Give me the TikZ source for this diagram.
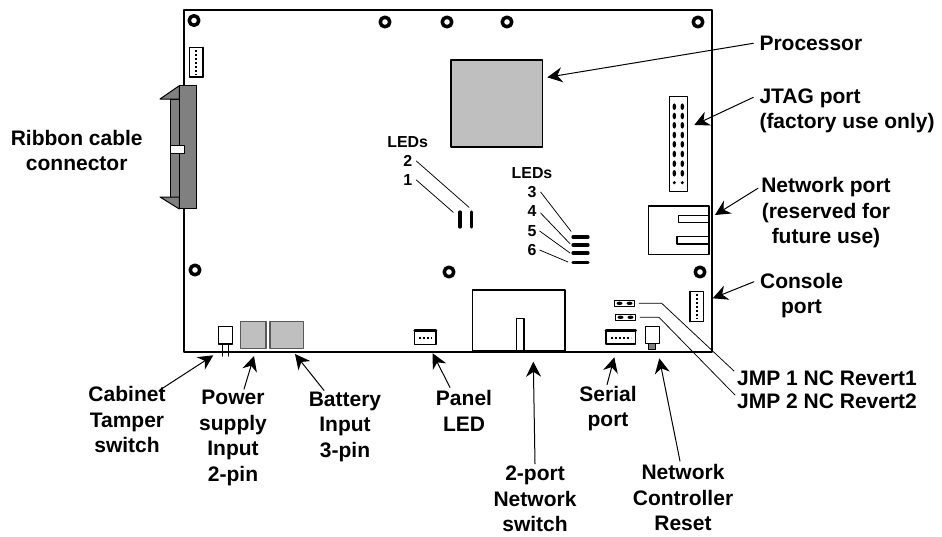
\documentclass[tikz,border=0pt]{standalone}
\usepackage{fontspec}
\setmainfont{Liberation Sans}
\usetikzlibrary{arrows.meta}
\definecolor{chipgray}{gray}{0.75}
\definecolor{partgray}{gray}{0.5}
\tikzset{
	lbl/.style={font=\fontsize{21}{25.5}\selectfont\bfseries,inner sep=0pt,align=center},
	ledlbl/.style={font=\fontsize{15.9}{18}\selectfont\bfseries,inner sep=0pt},
	pointer/.style={->,line width=1pt},
	leader/.style={line width=0.75pt},
	pins/.style={line width=2pt,dash pattern=on 2pt off 2pt,line cap=butt},
	ledbar/.style={line width=3.3pt}
}
\begin{document}
\begin{tikzpicture}[x=1pt,y=-1pt,line cap=round,line join=round,>={Stealth[length=15pt,width=15pt]}]
	\useasboundingbox (0,0) rectangle (942,536);
	% board and mounting holes
	\draw[line width=2pt] (183.5,9.5) rectangle (711.5,351.5);
	\foreach \x/\y in {194/20.5,385/22,447/22,507/22,698/22,195/270,449/272,700/272}
	\draw[line width=3.5pt] (\x,\y) circle (4.8pt);
	% ribbon cable connector
	\fill[partgray,draw=black,line width=1pt] (170,99) rectangle (179.3,197);
	\fill[partgray,draw=black,line width=1pt] (179.3,85.7) rectangle (196.7,208.7);
	\fill[partgray,draw=black,line width=1pt] (160,99) -- (179.3,85.7) -- (179.3,99) -- cycle;
	\fill[partgray,draw=black,line width=1pt] (160,197) -- (179.3,197) -- (179.3,209) -- cycle;
	\draw[fill=white,line width=0.5pt] (170.5,145.5) rectangle (184,153);
	% small headers
	\draw[line width=1.1pt] (189.3,47.7) rectangle (202.7,77);
	\draw[line width=2.4pt] (202.7,47.7) -- (202.7,77);
	\draw[pins] (195.7,50) -- (195.7,75);
	\draw[line width=1.1pt] (690,291.7) rectangle (703.3,321.3);
	\draw[line width=2.4pt] (690,291.7) -- (690,321.3);
	\draw[pins] (696.7,294) -- (696.7,319);
	\draw[line width=1.1pt] (414.7,330.7) rectangle (436,344.3);
	\draw[line width=2.6pt] (414.7,330.7) -- (436,330.7);
	\draw[pins] (419,338) -- (432,338);
	\draw[line width=1.1pt] (606,330.7) rectangle (635.7,344);
	\draw[line width=2.6pt] (606,330.7) -- (635.7,330.7);
	\draw[pins] (611,338) -- (631,338);
	% processor
	\draw[fill=chipgray,line width=1.6pt] (450.7,60) rectangle (542.3,146.7);
	% JTAG header
	\draw[line width=1.4pt] (669.3,96.7) rectangle (687.7,191.7);
	\foreach \x in {674.3,682.3}{
		\foreach \y in {106.7,116,125.3,135,144.3,154,163.7,173.3}
		\fill (\x,\y) ellipse (1.8pt and 3.3pt);
		\fill (\x,182.7) circle (1.7pt);
	}
	% network port
	\draw[line width=1.3pt] (648.3,206) rectangle (709,254.3);
	\draw[line width=1.3pt] (709,215.7) -- (678.7,215.7) -- (678.7,222.7) -- (709,222.7);
	\draw[line width=1.3pt] (709,236.7) -- (677,236.7) -- (677,244) -- (709,244);
	% LEDs
	\foreach \x in {460,471.3}
	\draw[ledbar] (\x,212) -- (\x,227);
	\foreach \y in {237,245,253,262.3}
	\draw[ledbar] (573,\y) -- (588,\y);
	\coordinate (ledtipa) at (453.3,212.3);
	\coordinate (ledtipb) at (469,207.3);
	\coordinate (ledtipc) at (571,231.3);
	\coordinate (ledtipd) at (570,243.7);
	\coordinate (ledtipe) at (570,253);
	\coordinate (ledtipf) at (568,262);
	\node[ledlbl] (ledsleft) at (407.7,141.7) {LEDs};
	\node[ledlbl] (leda) at (407.7,180) {1};
	\node[ledlbl] (ledb) at (407.7,161) {2};
	\node[ledlbl] (ledsright) at (532,173) {LEDs};
	\node[ledlbl] (ledc) at (532,192) {3};
	\node[ledlbl] (ledd) at (532,211) {4};
	\node[ledlbl] (lede) at (532,231) {5};
	\node[ledlbl] (ledf) at (532,250) {6};
	\draw[leader] ([xshift=4pt]leda.east) -- (ledtipa);
	\draw[leader] ([xshift=4pt]ledb.east) -- (ledtipb);
	\draw[leader] ([xshift=4pt]ledc.east) -- (ledtipc);
	\draw[leader] ([xshift=4pt,yshift=-2pt]ledd.east) -- (ledtipd);
	\draw[leader] ([xshift=3pt]lede.east) -- (ledtipe);
	\draw[leader] ([xshift=3pt]ledf.east) -- (ledtipf);
	% bottom edge parts
	\draw[line width=1.5pt] (218.3,326.7) rectangle (232.7,344);
	\draw[line width=1.1pt] (222.7,344) -- (222.7,356) (228.7,344) -- (228.7,356);
	\draw[fill=chipgray,draw=black!65,line width=1.1pt] (240.7,321.3) rectangle (266,348.3);
	\draw[fill=chipgray,draw=black!65,line width=1.1pt] (270,321.3) rectangle (303.3,348.3);
	\draw[line width=1.5pt] (472.7,290) rectangle (565,351);
	\draw[line width=1.5pt] (516.7,351) -- (516.7,318.3) -- (524,318.3) -- (524,351);
	\draw[line width=0.9pt] (645.3,326.3) rectangle (659,343.3);
	\draw[fill=partgray,line width=0.6pt] (648.3,343.3) rectangle (655.3,349);
	% jumpers
	\node[draw,line width=0.9pt,minimum width=20.4pt,minimum height=6.7pt,inner sep=0pt] (jmpa) at (624.5,303.3) {};
	\node[draw,line width=0.9pt,minimum width=20.4pt,minimum height=6.7pt,inner sep=0pt] (jmpb) at (625.5,317.3) {};
	\foreach \n in {jmpa,jmpb}{
		\fill ([xshift=-5pt]\n.center) ellipse (3pt and 1.7pt);
		\fill ([xshift=5pt]\n.center) ellipse (3pt and 1.7pt);
	}
	\coordinate (jmpabend) at (661.7,303.3);
	\coordinate (jmpbbend) at (659,317.3);
	% labels
	\node[lbl,anchor=west] (lblproc) at (759.3,43.3) {Processor};
	\node[lbl,align=left,anchor=west] (lbljtag) at (759.3,110.8) {JTAG port\\(factory use only)};
	\node[lbl] (lblnet) at (826,212.7) {Network port\\(reserved for\\future use)};
	\node[lbl,anchor=center] (lblcons) at (801.5,295.5) {Console\\port};
	\node[lbl] (lblribbon) at (76.7,150.5) {Ribbon cable\\connector};
	\node[lbl] (lblcab) at (127,419.5) {Cabinet\\Tamper\\switch};
	\node[lbl] (lblpow) at (233,438) {Power\\supply\\Input\\2-pin};
	\node[lbl] (lblbat) at (345,426.5) {Battery\\Input\\3-pin};
	\node[lbl] (lblpanel) at (464,411) {Panel\\LED};
	\node[lbl] (lblserial) at (608,408.5) {Serial\\port};
	\node[lbl] (lblswitch) at (535,499) {2-port\\Network\\switch};
	\node[lbl] (lblreset) at (683,497.5) {Network\\Controller\\Reset};
	\node[lbl,anchor=west] (lbljmpa) at (737,378) {JMP 1 NC Revert1};
	\node[lbl,anchor=west] (lbljmpb) at (737,401) {JMP 2 NC Revert2};
	% arrow tips
	\coordinate (tipproc) at (547.3,77.3);
	\coordinate (tipjtag) at (694.3,125);
	\coordinate (tipnet) at (715,215);
	\coordinate (tipcons) at (712.7,298.3);
	\coordinate (tipcab) at (213.3,355.3);
	\coordinate (tippow) at (254,356);
	\coordinate (tipbat) at (295,354);
	\coordinate (tippanel) at (432.7,353.3);
	\coordinate (tipswitch) at (533.3,361.7);
	\coordinate (tipserial) at (614.3,357.3);
	\coordinate (tipreset) at (659.3,358.3);
	% pointers
	\draw[pointer] ([xshift=-6pt]lblproc.west) -- (tipproc);
	\draw[pointer] ([xshift=-6pt,yshift=-9pt]lbljtag.north west) -- (tipjtag);
	\draw[pointer] ([xshift=-3pt,yshift=-11pt]lblnet.north west) -- (tipnet);
	\draw[pointer] ([xshift=-6pt,yshift=-9pt]lblcons.north west) -- (tipcons);
	\draw[pointer] ([xshift=-6pt,yshift=-4pt]lblcab.north east) -- (tipcab);
	\draw[pointer] ([xshift=11pt,yshift=1pt]lblpow.north) -- (tippow);
	\draw[pointer] ([xshift=-21pt,yshift=1pt]lblbat.north) -- (tipbat);
	\draw[pointer] ([xshift=-14pt,yshift=3pt]lblpanel.north) -- (tippanel);
	\draw[pointer] ([yshift=2pt]lblswitch.north) -- (tipswitch);
	\draw[pointer] ([xshift=-1pt,yshift=1pt]lblserial.north) -- (tipserial);
	\draw[pointer] ([xshift=-3pt,yshift=3pt]lblreset.north) -- (tipreset);
	\draw[leader] ([xshift=4pt]jmpa.east) -- (jmpabend) -- ([xshift=-3pt,yshift=7pt]lbljmpa.west);
	\draw[leader] ([xshift=4pt]jmpb.east) -- (jmpbbend) -- ([xshift=-2pt,yshift=6pt]lbljmpb.west);
\end{tikzpicture}
\end{document}
